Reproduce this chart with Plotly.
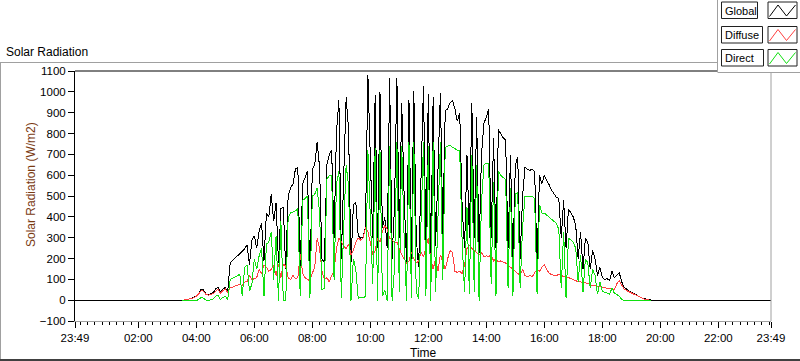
import plotly.graph_objects as go
import pandas as pd

# ---------------- data (5-minute steps from 03:30) ----------------
DAY_START = "2013-06-20 03:30"
STEP = "5min"
AXIS_START = "2013-06-19 23:49"
AXIS_END = "2013-06-20 23:49"

global_wm2 = [
    0, 2, 4, 6, 10, 15,            # 03:30
    22, 35, 55, 50, 30, 28,        # 04:00
    35, 38, 55, 65, 40, 55,        # 04:30
    62, 42, 180, 192, 204, 215,    # 05:00
    226, 238, 248, 268, 170, 290,  # 05:30
    310, 250, 335, 370, 190, 420,  # 06:00
    400, 510, 380, 470, 180, 440,  # 06:30
    450, 150, 500, 540, 560, 630,  # 07:00
    640, 160, 560, 590, 620, 100,  # 07:30
    630, 650, 760, 640, 200, 180,  # 08:00
    650, 700, 720, 300, 810, 960,  # 08:30
    200, 600, 975, 820, 180, 460,  # 09:00
    470, 310, 300, 305, 350, 1080, # 09:30
    700, 300, 984, 250, 1000, 350, # 10:00
    400, 250, 1070, 200, 450, 1070,# 10:30
    300, 950, 500, 180, 960, 200,  # 11:00
    1007, 300, 160, 600, 1031, 250,# 11:30
    990, 180, 975, 260, 600, 998,  # 12:00
    320, 910, 920, 950, 960, 920,  # 12:30
    860, 900, 450, 250, 700, 300,  # 13:00
    950, 300, 880, 230, 700, 850,  # 13:30
    880, 920, 300, 780, 250, 820,  # 14:00
    800, 780, 770, 250, 700, 180,  # 14:30
    650, 690, 200, 500, 640, 630,  # 15:00
    625, 630, 620, 180, 600, 560,  # 15:30
    600, 580, 555, 530, 510, 495,  # 16:00
    490, 300, 480, 250, 440, 420,  # 16:30
    400, 360, 200, 330, 150, 300,  # 17:00
    280, 150, 240, 200, 120, 160,  # 17:30
    110, 100, 105, 95, 140, 110,   # 18:00
    120, 134, 90, 65, 55, 45,      # 18:30
    40, 34, 25, 18, 14, 10,        # 19:00
    7, 4, 2, 0, 0, 0,              # 19:30
]

diffuse_wm2 = [
    0, 2, 4, 6, 10, 14,
    20, 32, 48, 45, 28, 26,
    30, 33, 45, 55, 35, 48,
    55, 38, 60, 64, 68, 72,
    78, 72, 88, 92, 120, 100,
    105, 110, 150, 130, 170, 160,
    140, 150, 170, 120, 175, 110,
    175, 165, 110, 100, 120, 105,
    110, 225, 130, 110, 100, 96,
    130, 160, 300, 250, 140, 100,
    110, 90, 120, 140, 250, 300,
    280, 260, 250, 270, 220, 240,
    280, 300, 290, 300, 350, 330,
    280, 220, 240, 300, 280, 330,
    360, 340, 300, 290, 280, 280,
    250, 220, 200, 180, 190, 230,
    200, 180, 190, 230, 210, 250,
    300, 200, 150, 200, 140, 220,
    180, 150, 200, 240, 230, 140,
    135, 140, 130, 170, 250, 265,
    250, 240, 230, 220, 230, 210,
    215, 210, 220, 190, 200, 185,
    190, 185, 180, 170, 160, 150,
    140, 130, 120, 150, 120, 115,
    120, 115, 130, 150, 140, 160,
    170, 150, 130, 125, 120, 120,
    125, 120, 115, 110, 110, 105,
    100, 95, 90, 90, 85, 85,
    80, 75, 72, 70, 68, 65,
    62, 60, 58, 55, 55, 52,
    80, 96, 75, 55, 48, 42,
    38, 30, 22, 16, 12, 8,
    5, 3, 1,
]

direct_wm2 = [
    0, 0, 0, 0, 0, 0,
    0, 5, 15, 10, 2, 0,
    5, 8, 20, 25, 5, 15,
    20, 4, 100, 106, 112, 120,
    126, 20, 160, 170, 45, 80,
    200, 150, 215, 250, 20, 270,
    280, 330, 100, 310, 0, 380,
    0, 0, 400, 420, 425, 430,
    440, 20, 480, 490, 500, 10,
    500, 510, 540, 420, 50, 60,
    580, 600, 600, 100, 560, 620,
    10, 350, 650, 550, 0, 200,
    150, 10, 15, 12, 20, 720,
    420, 80, 730, 0, 720, 20,
    50, 0, 740, 0, 150, 760,
    40, 740, 300, 0, 760, 10,
    760, 40, 10, 380, 760, 20,
    740, 0, 760, 40, 400, 760,
    100, 735, 740, 745, 735, 730,
    720, 720, 280, 40, 450, 30,
    700, 40, 650, 0, 470, 650,
    660, 660, 80, 570, 20, 620,
    600, 590, 580, 60, 540, 20,
    510, 520, 60, 350, 500, 500,
    500, 500, 490, 30, 460, 420,
    420, 410, 400, 390, 380, 370,
    340, 60, 330, 10, 300, 290,
    280, 250, 90, 220, 40, 200,
    180, 60, 150, 120, 30, 90,
    45, 40, 35, 30, 60, 35,
    30, 20, 5, 0, 0, 0,
    0, 0, 0, 0, 0, 0,
    0, 0, 0,
]

series_names = ["Global", "Diffuse", "Direct"]
series_colors = ["#000000", "#ff4040", "#10e010"]

tick_times = ["2013-06-19 23:49", "2013-06-20 02:00", "2013-06-20 04:00", "2013-06-20 06:00",
              "2013-06-20 08:00", "2013-06-20 10:00", "2013-06-20 12:00", "2013-06-20 14:00",
              "2013-06-20 16:00", "2013-06-20 18:00", "2013-06-20 20:00", "2013-06-20 22:00",
              "2013-06-20 23:49"]
tick_labels = ["23:49", "02:00", "04:00", "06:00", "08:00", "10:00", "12:00", "14:00",
               "16:00", "18:00", "20:00", "22:00", "23:49"]
y_ticks = list(range(-100, 1101, 100))

# ---------------- build ----------------
day_times = list(pd.date_range(DAY_START, periods=len(global_wm2), freq=STEP).strftime("%Y-%m-%d %H:%M"))

FONT = "Liberation Sans, Arial, sans-serif"
W, H = 800, 361
L, R, T, B = 75, 771, 71, 321


def px(p):
    return (p - L) / (R - L)


def py(p):
    return (B - p) / (B - T)


fig = go.Figure()
fig.add_trace(go.Scatter(x=[AXIS_START] + day_times + [AXIS_END], y=[0] + global_wm2 + [0],
                         mode="lines", name=series_names[0],
                         line=dict(color=series_colors[0], width=1)))
fig.add_trace(go.Scatter(x=day_times[:len(diffuse_wm2)], y=diffuse_wm2, mode="lines",
                         name=series_names[1], line=dict(color=series_colors[1], width=1)))
fig.add_trace(go.Scatter(x=day_times[:len(direct_wm2)], y=direct_wm2, mode="lines",
                         name=series_names[2], line=dict(color=series_colors[2], width=1)))

shapes = []


def line(x0, y0, x1, y1, color, width=1):
    shapes.append(dict(type="line", xref="paper", yref="paper", x0=px(x0), y0=py(y0),
                       x1=px(x1), y1=py(y1), line=dict(color=color, width=width), layer="above"))


# outer frame
line(0, 62.5, 717, 62.5, "#a0a0a0")
line(0.5, 62.5, 0.5, 360, "#a0a0a0")
line(0, 360, 800, 360, "#404040", 2)
# plot frame
line(75, 71, 771, 71, "#000000")
line(771, 71, 771, 321, "#a0a0a0")

# legend block
shapes.append(dict(type="rect", xref="paper", yref="paper", x0=px(717), y0=py(0), x1=px(801), y1=py(72),
                   fillcolor="white", line=dict(width=0), layer="above"))
line(717.5, 0, 717.5, 72, "#a0a0a0")
line(717.5, 72.5, 800, 72.5, "#a0a0a0")

annotations = []
row_tops = [2, 26.5, 49.5]
label_right = [757.5, 762.5, 763.5]
for name, color, top, lr in zip(series_names, series_colors, row_tops, label_right):
    bot = top + 16.5
    shapes.append(dict(type="rect", xref="paper", yref="paper", x0=px(721.5), y0=py(top), x1=px(lr), y1=py(bot),
                       line=dict(color="#202020", width=1), fillcolor="white", layer="above"))
    shapes.append(dict(type="rect", xref="paper", yref="paper", x0=px(768), y0=py(top), x1=px(797), y1=py(bot),
                       line=dict(color="#202020", width=1), fillcolor="white", layer="above"))
    zx = [769.5, 778, 786.5, 795.5]
    zy = [bot - 2, top + 3, bot - 2.5, top + 3]
    path = "M {} {} ".format(px(zx[0]), py(zy[0])) + " ".join(
        "L {} {}".format(px(a), py(b)) for a, b in zip(zx[1:], zy[1:]))
    shapes.append(dict(type="path", xref="paper", yref="paper", path=path,
                       line=dict(color=color, width=1), layer="above"))
    annotations.append(dict(text=name, xref="paper", yref="paper", x=px(722.5), y=py(top + 8.5),
                            xanchor="left", yanchor="middle", showarrow=False,
                            font=dict(family=FONT, size=11, color="#000000")))

annotations.append(dict(text="Solar Radiation", xref="paper", yref="paper", x=px(4), y=py(52),
                        xanchor="left", yanchor="middle", showarrow=False,
                        font=dict(family=FONT, size=12, color="#000000")))
annotations.append(dict(text="Solar Radiation (W/m2)", xref="paper", yref="paper", x=px(31), y=py(184),
                        xanchor="center", yanchor="middle", textangle=-90, showarrow=False,
                        font=dict(family=FONT, size=12, color="#7a3a12")))
annotations.append(dict(text="Time", xref="paper", yref="paper", x=px(423), y=py(353),
                        xanchor="center", yanchor="middle", showarrow=False,
                        font=dict(family=FONT, size=12, color="#000000")))

fig.update_layout(
    width=W, height=H, autosize=False,
    margin=dict(l=L, r=W - R, t=T, b=H - B, pad=0),
    paper_bgcolor="white", plot_bgcolor="white",
    showlegend=False,
    shapes=shapes, annotations=annotations,
    font=dict(family=FONT, size=11.5, color="#000000"),
    xaxis=dict(type="date", range=[AXIS_START, AXIS_END], tickmode="array",
               tickvals=tick_times, ticktext=tick_labels,
               ticks="outside", ticklen=6, tickwidth=1, tickcolor="#000000",
               showline=True, linecolor="#a0a0a0", linewidth=1,
               showgrid=False, zeroline=False,
               tickfont=dict(family=FONT, size=11.5, color="#000000"),
               minor=dict(ticks="outside", ticklen=3, tickwidth=1, tickcolor="#000000",
                          dtick=15 * 60 * 1000, tick0="2013-06-20 00:00", showgrid=False)),
    yaxis=dict(range=[-100, 1100], tickmode="array", tickvals=y_ticks,
               ticks="outside", ticklen=6, tickwidth=1, tickcolor="#000000",
               showline=True, linecolor="#000000", linewidth=1,
               showgrid=False, zeroline=False,
               tickfont=dict(family=FONT, size=11.5, color="#000000")),
)

post = (
    "document.body.style.margin='0';document.body.style.overflow='hidden';"
    "var gd=document.querySelector('.plotly-graph-div');"
    "function crisp(){document.querySelectorAll('.scatterlayer path.js-line').forEach(function(p){"
    "p.style.shapeRendering='crispEdges';p.setAttribute('transform','translate(0,0.33)');});}"
    "crisp();if(gd&&gd.on){gd.on('plotly_afterplot',crisp);}"
)
fig.write_html("out.html", config={"displayModeBar": False}, post_script=post)
